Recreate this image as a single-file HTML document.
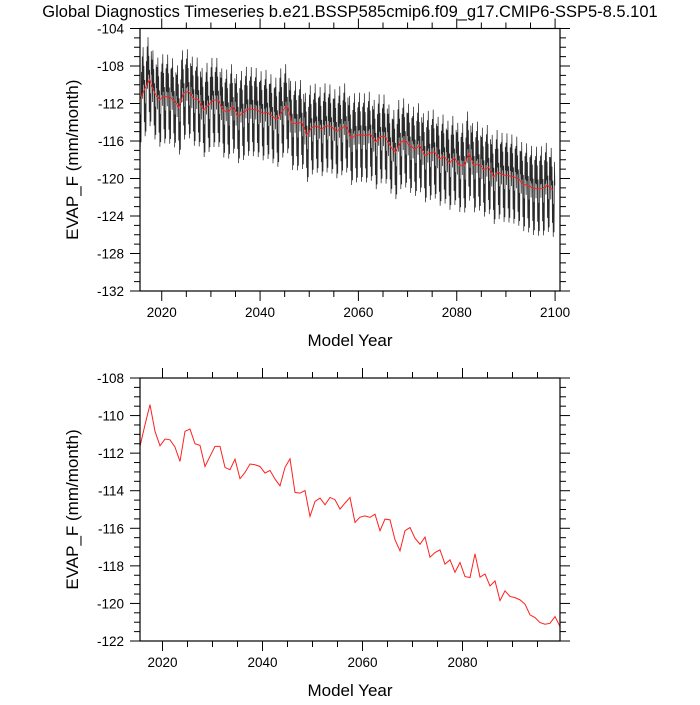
<!DOCTYPE html>
<html><head><meta charset="utf-8"><style>
body{margin:0;background:#fff}
svg text{font-family:"Liberation Sans",sans-serif;fill:#000}
</style></head><body>
<svg id="c" width="700" height="700" xmlns="http://www.w3.org/2000/svg">
<text x="350" y="17" text-anchor="middle" font-size="16.5">Global Diagnostics Timeseries b.e21.BSSP585cmip6.f09_g17.CMIP6-SSP5-8.5.101</text>
<defs>
<clipPath id="cl1"><rect x="140" y="28.5" width="420" height="262.5"/></clipPath>
<clipPath id="cl2"><rect x="140" y="378" width="420" height="263"/></clipPath>
</defs>
<g id="p1"></g>
<g id="p2"></g>
</svg>
<script>
const annualYears = [];
for (let y = 2015; y <= 2099; y++) annualYears.push(y + 0.5);
const annualValues = [-111.64,-110.49,-109.42,-110.84,-111.61,-111.25,-111.29,-111.68,-112.44,-110.84,-110.72,-111.5,-111.59,-112.71,-112.17,-111.64,-111.64,-112.76,-112.88,-112.32,-113.36,-113.03,-112.58,-112.62,-112.71,-113.06,-112.92,-113.38,-113.74,-112.76,-112.3,-114.09,-114.13,-113.99,-115.37,-114.57,-114.39,-114.75,-114.36,-114.48,-114.98,-114.66,-114.36,-115.69,-115.41,-115.34,-115.42,-115.25,-116.13,-115.51,-115.55,-116.61,-117.2,-116.13,-115.96,-116.53,-116.85,-116.47,-117.54,-117.29,-117.15,-117.91,-117.68,-118.34,-117.82,-118.57,-118.62,-117.36,-118.6,-118.43,-119.07,-118.8,-119.85,-119.33,-119.63,-119.69,-119.81,-120.04,-120.61,-120.75,-121.02,-121.11,-121.06,-120.7,-121.23];
const seasonalAnomaly = [3.5,-1.0,4.5,0.5,2.5,-3.5,1.0,-5.0,-1.5,-4.5,3.0,0.5];
const topYTicks = [-104,-108,-112,-116,-120,-124,-128,-132];
const bottomYTicks = [-108,-110,-112,-114,-116,-118,-120,-122];
const topXTicks = [2020,2040,2060,2080,2100];
const bottomXTicks = [2020,2040,2060,2080];

const NS = "http://www.w3.org/2000/svg";
function mk(parent, tag, attrs){const e=document.createElementNS(NS,tag);for(const k in attrs)e.setAttribute(k,attrs[k]);parent.appendChild(e);return e;}

function panel(g, o){
  const sx = v => o.x0 + (v - o.d0) / (o.d1 - o.d0) * (o.x1 - o.x0);
  const sy = v => o.y0 + (v - o.ymax) / (o.ymin - o.ymax) * (o.y1 - o.y0);
  for (let v = o.ymin; v <= o.ymax + 1e-6; v += o.yminor) {
    const major = Math.abs(((v - o.ymin) / o.ymajor) - Math.round((v - o.ymin) / o.ymajor)) < 1e-6;
    const L = major ? 10 : 6, y = sy(v);
    const t1 = mk(g,'line',{x1:o.x0-L,x2:o.x0,y1:y,y2:y,stroke:'#000','stroke-width':1});
    
    
    const t2 = mk(g,'line',{x1:o.x1,x2:o.x1+L,y1:y,y2:y,stroke:'#000','stroke-width':1});
    
    
  }
  for (let yr = 2015; yr <= 2105; yr += 5) {
    const x = sx(yr); if (x < o.x0 - 0.5 || x > o.x1 + 0.5) continue;
    const L = yr % 20 === 0 ? 10 : 6;
    const t1 = mk(g,'line',{x1:x,x2:x,y1:o.y1,y2:o.y1+L,stroke:'#000','stroke-width':1});
    
    
    const t2 = mk(g,'line',{x1:x,x2:x,y1:o.y0-L,y2:o.y0,stroke:'#000','stroke-width':1});
    
    
  }
  o.yticks.forEach(v => {
    const t = mk(g,'text',{x:o.x0-16,y:sy(v)+5,'text-anchor':'end','font-size':13.5});
    t.textContent = v;
    
    
  });
  o.xticks.forEach(v => {
    const t = mk(g,'text',{x:sx(v),y:o.y1+26,'text-anchor':'middle','font-size':13.5});
    t.textContent = v;
    
    
  });
  const xt = mk(g,'text',{x:(o.x0+o.x1)/2,y:o.y1+55,'text-anchor':'middle','font-size':17});
  xt.textContent = 'Model Year';
  
  
  const cy = (o.y0+o.y1)/2;
  const yt = mk(g,'text',{x:78,y:cy,'text-anchor':'middle','font-size':17,transform:`rotate(-90 78 ${cy})`});
  yt.textContent = 'EVAP_F (mm/month)';
  
  
  const sg = mk(g,'g',{'clip-path':`url(#${o.clip})`});
  if (o.monthly) {
    let d = '';
    annualValues.forEach((a, i) => {
      seasonalAnomaly.forEach((s, m) => {
        const x = sx(annualYears[i] - 0.5 + (m + 0.5) / 12), y = sy(a + s);
        d += (d ? 'L' : 'M') + x.toFixed(2) + ' ' + y.toFixed(2);
      });
    });
    const p = mk(sg,'path',{d:d,fill:'none',stroke:'#2a2a2a','stroke-width':0.75});
    
    
  }
  const da = annualValues.map((v,i)=>(i?'L':'M')+sx(annualYears[i]).toFixed(2)+' '+sy(v).toFixed(2)).join('');
  const r = mk(sg,'path',{d:da,fill:'none',stroke:'#ff2020','stroke-width':1});
  
  
  const f = mk(g,'rect',{x:o.x0,y:o.y0,width:o.x1-o.x0,height:o.y1-o.y0,fill:'none',stroke:'#000','stroke-width':1.2});
  
  
}
panel(document.getElementById('p1'),{x0:140,x1:560,y0:28.5,y1:291,d0:2015.58,d1:2101.0,ymin:-132,ymax:-104,ymajor:4,yminor:1,yticks:topYTicks,xticks:topXTicks,clip:'cl1',monthly:true});
panel(document.getElementById('p2'),{x0:140,x1:560,y0:378,y1:641,d0:2015.5,d1:2099.5,ymin:-122,ymax:-108,ymajor:2,yminor:0.5,yticks:bottomYTicks,xticks:bottomXTicks,clip:'cl2',monthly:false});
</script>
</body></html>
